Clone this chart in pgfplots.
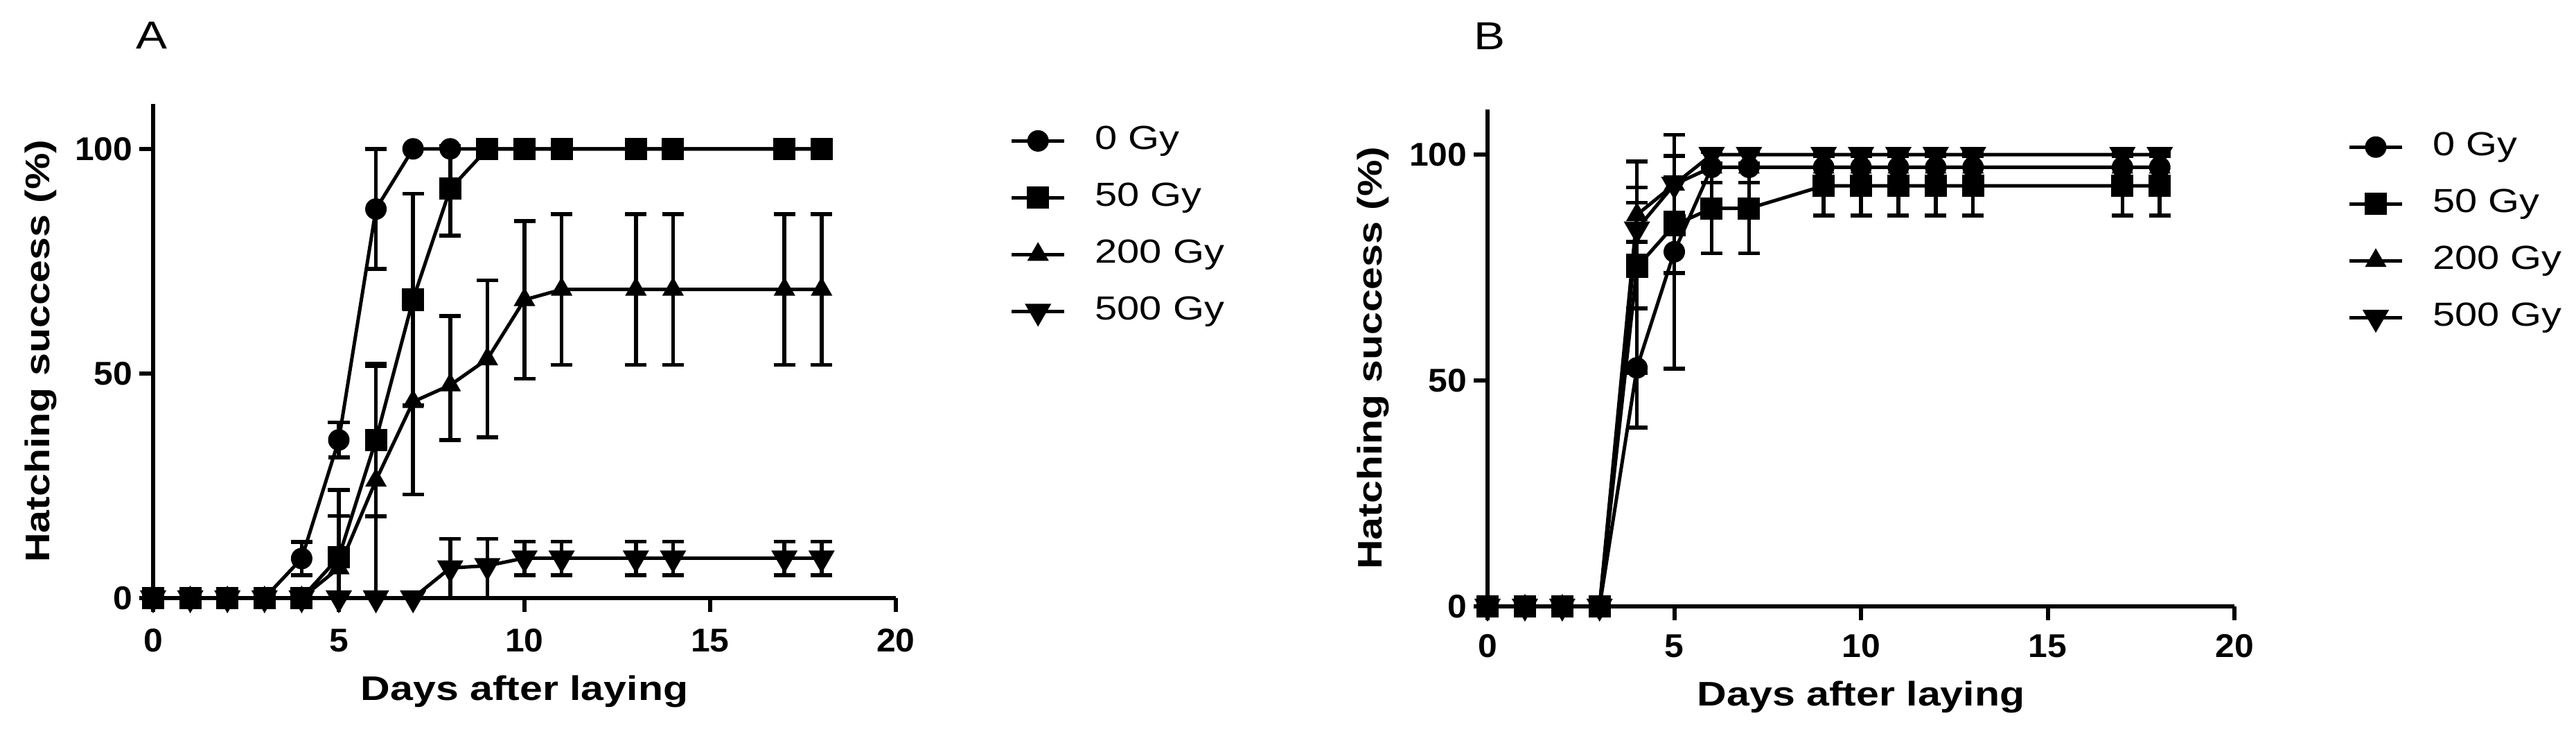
\documentclass[border=0pt]{standalone}
\usepackage{fontspec}
\setmainfont{Liberation Sans}[FakeStretch=1.2]
\newfontfamily\tickfont{Liberation Sans}[FakeStretch=1.05]
\usepackage{pgfplots}
\pgfplotsset{compat=1.18}
\usepackage{pgfplotstable}

\newcommand{\tkl}{\tickfont\bfseries\fontsize{13.5}{15}\selectfont}

% ---------------- Panel A data ----------------
\pgfplotstableread{
x y
0 0
1 0
2 0
3 0
4 8.8
5 35.2
6 86.6
7 100
8 100
9 100
10 100
11 100
13 100
14 100
17 100
18 100
}\Azero
\pgfplotstableread{
x y ep em
4 8.8 3.7 3.7
5 35.2 3.9 3.9
6 86.6 13.4 13.3
}\AzeroErr
\pgfplotstableread{
x y
0 0
1 0
2 0
3 0
4 0
5 9.1
6 35.2
7 66.5
8 91.1
9 100
10 100
11 100
13 100
14 100
17 100
18 100
}\Afifty
\pgfplotstableread{
x y ep em
5 9.1 15.0 9.1
6 35.2 17.0 17.0
7 66.5 23.5 23.5
8 91.1 9.5 10.4
}\AfiftyErr
\pgfplotstableread{
x y
0 0
1 0
2 0
3 0
4 0
5 6.7
6 26.2
7 43.7
8 47.4
9 53.2
10 66.4
11 68.7
13 68.7
14 68.7
17 68.7
18 68.7
}\Atwo
\pgfplotstableread{
x y ep em
5 6.7 11.6 6.7
6 26.2 25.4 25.4
7 43.7 20.6 20.6
8 47.4 15.4 12.2
9 53.2 17.5 17.4
10 66.4 17.5 17.6
11 68.7 16.8 16.8
13 68.7 16.8 16.8
14 68.7 16.8 16.8
17 68.7 16.8 16.8
18 68.7 16.8 16.8
}\AtwoErr
\pgfplotstableread{
x y
0 0
1 0
2 0
3 0
4 0
5 0
6 0
7 0
8 6.7
9 7.2
10 8.9
11 8.9
13 8.9
14 8.9
17 8.9
18 8.9
}\Afive
\pgfplotstableread{
x y ep em
8 6.7 6.5 6.7
9 7.2 6.0 7.2
10 8.9 3.7 3.8
11 8.9 3.7 3.8
13 8.9 3.7 3.8
14 8.9 3.7 3.8
17 8.9 3.7 3.8
18 8.9 3.7 3.8
}\AfiveErr

% ---------------- Panel B data ----------------
\pgfplotstableread{
x y
0 0
1 0
2 0
3 0
4 52.8
5 78.5
6 97.2
7 97.2
9 97.2
10 97.2
11 97.2
12 97.2
13 97.2
17 97.2
18 97.2
}\Bzero
\pgfplotstableread{
x y ep em
4 52.8 13.2 13.2
5 78.5 25.9 25.9
6 97.2 3.4 3.4
7 97.2 3.4 3.4
9 97.2 3.4 3.4
10 97.2 3.4 3.4
11 97.2 3.4 3.4
12 97.2 3.4 3.4
13 97.2 3.4 3.4
17 97.2 3.4 3.4
18 97.2 3.4 3.4
}\BzeroErr
\pgfplotstableread{
x y
0 0
1 0
2 0
3 0
4 75.1
5 84.4
6 88.1
7 88.1
9 93.1
10 93.1
11 93.1
12 93.1
13 93.1
17 93.1
18 93.1
}\Bfifty
\pgfplotstableread{
x y ep em
4 75.1 23.4 23.4
5 84.4 10.6 10.6
6 88.1 9.9 9.9
7 88.1 9.9 9.9
9 93.1 6.6 6.6
10 93.1 6.6 6.6
11 93.1 6.6 6.6
12 93.1 6.6 6.6
13 93.1 6.6 6.6
17 93.1 6.6 6.6
18 93.1 6.6 6.6
}\BfiftyErr
\pgfplotstableread{
x y
0 0
1 0
2 0
3 0
4 86.7
5 93.4
6 97.2
7 97.2
9 97.2
10 97.2
11 97.2
12 97.2
13 97.2
17 97.2
18 97.2
}\Btwo
\pgfplotstableread{
x y ep em
4 86.7 6.0 6.0
5 93.4 6.3 6.3
}\BtwoErr
\pgfplotstableread{
x y
0 0
1 0
2 0
3 0
4 83.5
5 93.4
6 100
7 100
9 100
10 100
11 100
12 100
13 100
17 100
18 100
}\Bfive
\pgfplotstableread{
x y ep em
4 83.5 5.9 5.9
5 93.4 6.3 6.3
}\BfiveErr

\pgfplotsset{
  hatch/.style={
    scale only axis,
    xmin=0, xmax=20, ymin=0, ymax=110,
    axis x line=bottom, axis y line=left,
    axis line style={line width=0.6mm, -},
    xtick={0,5,10,15,20}, ytick={0,50,100},
    xticklabel={\tkl\pgfmathprintnumber[assume math mode=true]{\tick}},
    yticklabel={\tkl\pgfmathprintnumber[assume math mode=true]{\tick}},
    tick align=outside, major tick length=2mm,
    tick style={line width=0.6mm, black},
    minor tick num=0,
    yticklabel style={inner sep=0pt, anchor=east, xshift=-0.9mm},
    label style={font=\bfseries\fontsize{14}{16}\selectfont},
    xlabel={Days after laying}, ylabel={Hatching success (\%)},
    clip=false,
    legend cell align=left,
    legend style={draw=none, fill=none, inner sep=0pt, row sep=3.8mm, column sep=4.2mm,
      font=\fontsize{13.7}{16}\selectfont,
      nodes={inner sep=0pt, text height=3.4mm, text depth=1mm}},
    legend image code/.code={\draw[mark repeat=2, mark phase=2, ##1] plot coordinates {(0mm,0mm) (3.8mm,0mm) (7.6mm,0mm)};},
  },
  ln/.style={black, line width=0.5mm, mark options={solid, fill=black, draw=black, line width=0.1mm}},
  eb/.style={only marks, mark=none, forget plot, error bars/.cd, y dir=both, y explicit,
    error bar style={draw=black, line width=0.55mm},
    error mark options={draw=black, rotate=90, mark size=1.55mm, line width=0.55mm}},
}

\begin{document}
\begin{tikzpicture}
\useasboundingbox (0,0) rectangle (371.8mm,107.5mm);
\node[font=\fontsize{16}{18}\selectfont] at (21.9mm,102.4mm) {A};
\node[font=\fontsize{16}{18}\selectfont] at (215.0mm,102.3mm) {B};

\begin{axis}[hatch, at={(22.1mm,21.2mm)}, anchor=south west, width=107.2mm, height=71.3mm,
  xticklabel style={inner sep=0pt, anchor=north, yshift=-2.4mm},
  legend style={at={(axis description cs:1.153,0.957)}, anchor=north west},
  ylabel style={at={(axis description cs:-0.151,0.5)}, anchor=center},
  xlabel style={at={(axis description cs:0.5,-0.189)}, anchor=center}]
\addplot[eb] table[x=x, y=y, y error plus=ep, y error minus=em] {\AzeroErr};
\addplot[eb] table[x=x, y=y, y error plus=ep, y error minus=em] {\AfiftyErr};
\addplot[eb] table[x=x, y=y, y error plus=ep, y error minus=em] {\AtwoErr};
\addplot[eb] table[x=x, y=y, y error plus=ep, y error minus=em] {\AfiveErr};
\addplot[ln, mark=*, mark size=1.5mm] table[x=x, y=y] {\Azero};
\addplot[ln, mark=square*, mark size=1.55mm] table[x=x, y=y] {\Afifty};
\addplot[ln, mark=triangle*, mark size=1.7mm] table[x=x, y=y] {\Atwo};
\addplot[ln, mark=triangle*, mark size=1.7mm, mark options={rotate=180}] table[x=x, y=y] {\Afive};
\legend{0 Gy, 50 Gy, 200 Gy, 500 Gy}
\end{axis}

\begin{axis}[hatch, at={(214.7mm,20.0mm)}, anchor=south west, width=107.8mm, height=71.7mm,
  xticklabel style={inner sep=0pt, anchor=north, yshift=-2.0mm},
  legend style={at={(axis description cs:1.151,0.956)}, anchor=north west},
  ylabel style={at={(axis description cs:-0.153,0.5)}, anchor=center},
  xlabel style={at={(axis description cs:0.5,-0.183)}, anchor=center}]
\addplot[eb] table[x=x, y=y, y error plus=ep, y error minus=em] {\BzeroErr};
\addplot[eb] table[x=x, y=y, y error plus=ep, y error minus=em] {\BfiftyErr};
\addplot[eb] table[x=x, y=y, y error plus=ep, y error minus=em] {\BtwoErr};
\addplot[eb] table[x=x, y=y, y error plus=ep, y error minus=em] {\BfiveErr};
\addplot[ln, mark=*, mark size=1.5mm] table[x=x, y=y] {\Bzero};
\addplot[ln, mark=square*, mark size=1.55mm] table[x=x, y=y] {\Bfifty};
\addplot[ln, mark=triangle*, mark size=1.7mm] table[x=x, y=y] {\Btwo};
\addplot[ln, mark=triangle*, mark size=1.7mm, mark options={rotate=180}] table[x=x, y=y] {\Bfive};
\legend{0 Gy, 50 Gy, 200 Gy, 500 Gy}
\end{axis}
\end{tikzpicture}
\end{document}
